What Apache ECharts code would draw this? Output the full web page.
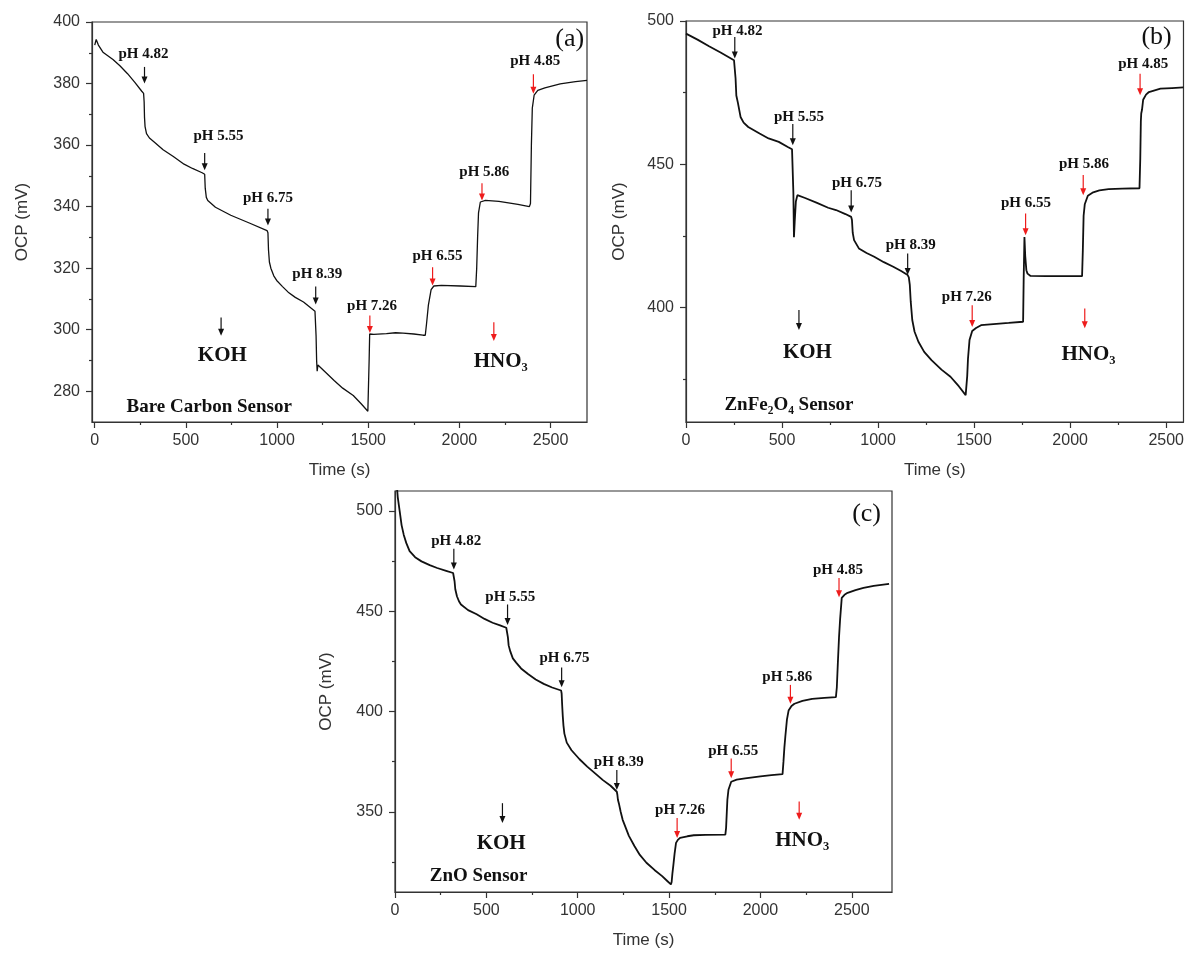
<!DOCTYPE html>
<html>
<head>
<meta charset="utf-8">
<script src="https://cdn.jsdelivr.net/npm/echarts@6/dist/echarts.min.js"></script>
<style>
  html, body { margin: 0; padding: 0; background: #fff; }
  #chart { width: 1187px; height: 954px; }
</style>
</head>
<body>
<div id="chart"></div>
<script>
// ---------- shared labels and ticks ----------
const stepLabels = ['pH 4.82', 'pH 5.55', 'pH 6.75', 'pH 8.39', 'pH 7.26', 'pH 6.55', 'pH 5.86', 'pH 4.85'];
const reagentLabels = ['KOH', 'HNO₃'];
const sensorNames = ['Bare Carbon Sensor', 'ZnFe₂O₄ Sensor', 'ZnO Sensor'];
const panelTags = ['(a)', '(b)', '(c)'];

const xMajorTicks = [0, 500, 1000, 1500, 2000, 2500];
const xMinorTicks = [250, 750, 1250, 1750, 2250];
const yMajorA = [280, 300, 320, 340, 360, 380, 400];
const yMinorA = [290, 310, 330, 350, 370, 390];
const yMajorB = [400, 450, 500];
const yMinorB = [375, 425, 475];
const yMajorC = [350, 400, 450, 500];
const yMinorC = [325, 375, 425, 475];

// ---------- (a) bare carbon sensor ----------
const timeA = [0, 8, 20, 45, 100, 138, 180, 220, 258, 268, 271, 273, 276, 284, 300, 326, 375, 431, 490, 536, 589, 603, 606, 612, 620, 662, 746, 851, 945, 950, 953, 958, 966, 982, 998, 1030, 1061, 1100, 1145, 1208, 1212, 1214, 1217, 1220, 1224, 1230, 1260, 1313, 1360, 1418, 1460, 1498, 1502, 1505, 1508, 1530, 1600, 1650, 1691, 1750, 1800, 1813, 1820, 1830, 1845, 1860, 1901, 2006, 2090, 2095, 2100, 2105, 2115, 2143, 2217, 2321, 2384, 2390, 2395, 2400, 2410, 2430, 2469, 2553, 2637, 2700];
const ocpA = [392.5, 394.3, 392.5, 390.2, 387.8, 385.8, 383.2, 380.4, 377.5, 376.8, 374, 369, 366, 363.7, 362.3, 361, 358.5, 356.3, 353.8, 352.4, 351, 350.5, 346, 343, 342, 339.8, 337.2, 334.6, 332.2, 331.5, 326, 322, 320, 317.5, 316, 314, 312.2, 310.5, 309, 306, 305.5, 298, 290, 286.5, 288.5, 289, 286.5, 283.5, 281, 278.6, 276, 273.5, 273.8, 290, 298.6, 298.5, 298.7, 299, 298.9, 298.6, 298.2, 298.2, 302, 308, 313, 314.2, 314.4, 314.2, 314, 320, 330, 338, 341.5, 342, 341.7, 340.7, 340, 341, 360, 372, 376.2, 377.8, 378.6, 379.9, 380.6, 381];
const stepArrowTimeA = [273, 603, 950, 1212, 1509, 1853, 2124, 2406];
const stepArrowFromA = [385.4, 357.4, 339.3, 314, 304.6, 320.3, 347.6, 383];
const stepArrowToA = [380, 351.8, 333.9, 308.2, 298.9, 314.4, 342, 376.7];
const stepLabelTimeA = [267, 679, 950, 1221, 1521, 1880, 2137, 2416];
const stepLabelMvA = [389.7, 362.9, 342.9, 318.2, 307.5, 323.8, 351.2, 387.3];
const reagentArrowA = [[693, 304, 298], [2189, 302.4, 296.3]];
const reagentTextA = [[700, 291.6], [2227, 289.6]];
const sensorTextA = [628, 275];
const tagTextA = [2605, 394.3];

// ---------- (b) ZnFe2O4 sensor ----------
const timeB = [0, 60, 120, 180, 250, 255, 258, 262, 270, 284, 300, 324, 383, 430, 483, 530, 552, 556, 559, 562, 566, 572, 580, 590, 620, 682, 740, 781, 830, 860, 864, 868, 875, 900, 940, 980, 1030, 1079, 1120, 1154, 1160, 1165, 1170, 1178, 1190, 1210, 1240, 1278, 1330, 1377, 1420, 1456, 1460, 1464, 1468, 1476, 1490, 1510, 1536, 1600, 1680, 1755, 1758, 1762, 1766, 1772, 1778, 1794, 1874, 1960, 2062, 2066, 2070, 2076, 2092, 2120, 2152, 2200, 2271, 2361, 2365, 2368, 2370, 2374, 2380, 2395, 2410, 2470, 2530, 2590];
const ocpB = [495.6, 493.5, 491.2, 489, 486.3, 485.8, 480, 474, 471.5, 466.5, 464.5, 463, 460.7, 459, 457.8, 456, 455.2, 454.6, 440, 424.5, 430, 437, 439.2, 439.3, 438.2, 436.5, 434.8, 434, 432.6, 431.6, 430.5, 426, 423.5, 420.6, 419, 417.7, 415.8, 414.2, 412.7, 411.3, 410.5, 408, 402, 395.6, 391.5, 388, 384.5, 381.6, 378.3, 375.8, 372.5, 369.4, 370, 376, 382, 388.6, 391.8, 392.8, 393.8, 394.2, 394.6, 395, 410, 424.6, 418, 413, 411.8, 411, 410.9, 410.9, 410.9, 420, 432, 436, 439, 440.2, 440.9, 441.3, 441.5, 441.6, 452, 465, 467.7, 469, 472.5, 474.3, 475.2, 476.4, 476.6, 476.8];
const stepArrowTimeB = [254, 556, 860, 1154, 1490, 1768, 2068, 2364];
const stepArrowFromB = [494.4, 464, 440.9, 418.8, 400.8, 432.8, 446.2, 481.6];
const stepArrowToB = [486.9, 456.6, 433.1, 411.3, 393.2, 425.2, 439.2, 474.1];
const stepLabelTimeB = [268, 588, 890, 1170, 1462, 1770, 2072, 2380];
const stepLabelMvB = [496.5, 466.5, 443.5, 421.7, 403.7, 436.5, 450, 485.1];
const reagentArrowB = [[588, 399.1, 392.1], [2076, 399.6, 392.7]];
const reagentTextB = [[632, 384.2], [2096, 383.4]];
const sensorTextB = [536, 365.9];
const tagTextB = [2450, 494.4];

// ---------- (c) ZnO sensor ----------
const timeC = [0, 8, 15, 26, 36, 48, 62, 80, 110, 145, 190, 231, 280, 318, 322, 326, 330, 339, 350, 361, 400, 447, 490, 534, 575, 609, 614, 618, 622, 631, 645, 663, 690, 728, 770, 814, 860, 909, 912, 915, 918, 922, 927, 940, 966, 1010, 1052, 1100, 1138, 1180, 1214, 1217, 1220, 1225, 1235, 1246, 1280, 1311, 1340, 1376, 1420, 1462, 1490, 1510, 1514, 1518, 1523, 1530, 1538, 1548, 1560, 1600, 1635, 1700, 1808, 1812, 1816, 1819, 1825, 1840, 1870, 1916, 2000, 2060, 2121, 2126, 2131, 2136, 2145, 2154, 2170, 2186, 2230, 2283, 2350, 2413, 2418, 2424, 2430, 2436, 2445, 2460, 2477, 2520, 2564, 2620, 2704];
const ocpC = [530, 515, 507, 499.7, 493, 488.1, 484, 480, 477, 474.9, 473, 471.6, 470.2, 469.1, 468.5, 465, 461, 457.5, 455, 453.4, 450.6, 448.5, 446.2, 444.3, 443, 441.8, 441, 437, 433, 430, 426.5, 424.4, 421.5, 418.7, 416, 413.8, 412, 410.5, 409, 403, 398, 393, 389, 384.5, 380.7, 376.2, 372.5, 368.8, 365.8, 363, 360, 358.5, 356, 354.3, 350, 346, 338, 332.8, 328.5, 324.6, 321, 317.9, 315.5, 313.8, 315, 319, 323, 329, 334.5, 336, 337, 337.8, 338.3, 338.5, 338.6, 342, 350, 355.9, 361, 365, 366, 366.7, 367.7, 368.3, 368.8, 375, 382, 387.3, 396, 400.5, 402.8, 403.9, 405.3, 406.3, 406.8, 407.2, 412, 425, 436.9, 446, 456.7, 458.2, 459.2, 460.6, 461.7, 462.7, 463.7];
const stepArrowTimeC = [322, 616, 912, 1214, 1544, 1840, 2164, 2430];
const stepArrowFromC = [481.2, 453.4, 422, 370.8, 346.9, 376.6, 413.3, 466.6];
const stepArrowToC = [470.8, 443.2, 412.1, 360.9, 336.9, 366.7, 403.9, 457];
const stepLabelTimeC = [335, 631, 927, 1225, 1560, 1851, 2147, 2424];
const stepLabelMvC = [484.8, 457, 426.5, 374.9, 351, 380.2, 417.1, 470.4];
const reagentArrowC = [[588, 354.3, 344.4], [2212, 355.1, 346]];
const reagentTextC = [[581, 334.1], [2229, 335.8]];
const sensorTextC = [458, 317.9];
const tagTextC = [2581, 498.3];

// ---------- styling ----------
const AXIS_COLOR = '#333';
const LABEL_COLOR = '#333';
const CURVE_COLOR = '#111';
const BASE_COLOR = '#111';   // KOH additions
const ACID_COLOR = '#ee1c1c'; // HNO3 additions
const SANS = '"Liberation Sans", Arial, sans-serif';
const SERIF = '"Liberation Serif", "Times New Roman", serif';

const panels = [
  {
    grid: { left: 92, top: 22, width: 495, height: 400 },
    xRange: [-15, 2700], yRange: [270, 400], yMajor: yMajorA, yMinor: yMinorA,
    time: timeA, ocp: ocpA, lineWidth: 1.3,
    arrowT: stepArrowTimeA, arrowFrom: stepArrowFromA, arrowTo: stepArrowToA,
    labelT: stepLabelTimeA, labelV: stepLabelMvA,
    reagentArrow: reagentArrowA, reagentText: reagentTextA,
    sensor: sensorTextA, tag: tagTextA, yNameGap: 61
  },
  {
    grid: { left: 686, top: 21, width: 498, height: 401 },
    xRange: [0, 2590], yRange: [360, 500], yMajor: yMajorB, yMinor: yMinorB,
    time: timeB, ocp: ocpB, lineWidth: 1.8,
    arrowT: stepArrowTimeB, arrowFrom: stepArrowFromB, arrowTo: stepArrowToB,
    labelT: stepLabelTimeB, labelV: stepLabelMvB,
    reagentArrow: reagentArrowB, reagentText: reagentTextB,
    sensor: sensorTextB, tag: tagTextB, yNameGap: 58
  },
  {
    grid: { left: 395, top: 491, width: 497, height: 401 },
    xRange: [0, 2720], yRange: [310, 510], yMajor: yMajorC, yMinor: yMinorC,
    time: timeC, ocp: ocpC, lineWidth: 1.8,
    arrowT: stepArrowTimeC, arrowFrom: stepArrowFromC, arrowTo: stepArrowToC,
    labelT: stepLabelTimeC, labelV: stepLabelMvC,
    reagentArrow: reagentArrowC, reagentText: reagentTextC,
    sensor: sensorTextC, tag: tagTextC, yNameGap: 60
  }
];

const grids = [], xAxes = [], yAxes = [], series = [];

function axisPair(dim, gridIndex, range, major, minor, name, nameGap) {
  const pos = dim === 'x' ? 'bottom' : 'left';
  const main = {
    gridIndex, type: 'value', position: pos, min: range[0], max: range[1],
    name, nameLocation: 'middle', nameGap,
    nameTextStyle: { color: LABEL_COLOR, fontSize: 17, fontFamily: SANS },
    axisLine: { show: true, onZero: false, lineStyle: { color: AXIS_COLOR, width: 1.2 } },
    axisTick: { show: true, inside: false, length: 6, customValues: major, lineStyle: { color: AXIS_COLOR, width: 1.2 } },
    axisLabel: {
      show: true, customValues: major, margin: dim === 'x' ? 11 : 12,
      color: LABEL_COLOR, fontSize: 16, fontFamily: SANS,
      formatter: v => String(v)
    },
    splitLine: { show: false }
  };
  const sub = {
    gridIndex, type: 'value', position: pos, min: range[0], max: range[1],
    axisLine: { show: false, onZero: false },
    axisTick: { show: true, inside: false, length: 3, customValues: minor, lineStyle: { color: AXIS_COLOR, width: 1.2 } },
    axisLabel: { show: false },
    splitLine: { show: false }
  };
  return [main, sub];
}

panels.forEach((p, i) => {
  grids.push(Object.assign({ show: true, borderColor: AXIS_COLOR, borderWidth: 1.2, backgroundColor: 'transparent' }, p.grid));
  xAxes.push(...axisPair('x', i, p.xRange, xMajorTicks, xMinorTicks, 'Time (s)', 40));
  yAxes.push(...axisPair('y', i, p.yRange, p.yMajor, p.yMinor, 'OCP (mV)', p.yNameGap));
  const ax = 2 * i;

  // measured OCP trace
  series.push({
    type: 'line', xAxisIndex: ax, yAxisIndex: ax,
    data: p.time.map((t, k) => [t, p.ocp[k]]),
    showSymbol: false, symbol: 'none', clip: true,
    lineStyle: { color: CURVE_COLOR, width: p.lineWidth },
    z: 3
  });

  // arrows: the four KOH steps in black, the four HNO3 steps in red, then the two reagent arrows
  const arrowRows = p.arrowT.map((t, k) => [t, p.arrowFrom[k], p.arrowTo[k], k < 4 ? 0 : 1]);
  arrowRows.push([p.reagentArrow[0][0], p.reagentArrow[0][1], p.reagentArrow[0][2], 0]);
  arrowRows.push([p.reagentArrow[1][0], p.reagentArrow[1][1], p.reagentArrow[1][2], 1]);
  series.push({
    type: 'custom', xAxisIndex: ax, yAxisIndex: ax, silent: true, z: 4,
    data: arrowRows,
    encode: { x: 0, y: [1, 2] },
    renderItem: (params, api) => {
      const a = api.coord([api.value(0), api.value(1)]);
      const b = api.coord([api.value(0), api.value(2)]);
      const color = api.value(3) === 1 ? ACID_COLOR : BASE_COLOR;
      const head = 7, half = 3;
      return {
        type: 'group',
        children: [
          { type: 'line', shape: { x1: a[0], y1: a[1], x2: b[0], y2: b[1] - head + 1 }, style: { stroke: color, lineWidth: 1.2 } },
          { type: 'polygon', shape: { points: [[b[0] - half, b[1] - head], [b[0] + half, b[1] - head], [b[0], b[1]]] }, style: { fill: color } }
        ]
      };
    }
  });

  // text annotations placed in data coordinates
  const texts = [];
  p.labelT.forEach((t, k) => texts.push({ pos: [t, p.labelV[k]], text: stepLabels[k], size: 15, weight: 'bold' }));
  texts.push({ pos: p.reagentText[0], text: reagentLabels[0], size: 21, weight: 'bold' });
  texts.push({ pos: p.reagentText[1], text: reagentLabels[1], size: 21, weight: 'bold' });
  texts.push({ pos: p.sensor, text: sensorNames[i], size: 19, weight: 'bold' });
  texts.push({ pos: p.tag, text: panelTags[i], size: 26, weight: 'normal' });
  series.push({
    type: 'custom', xAxisIndex: ax, yAxisIndex: ax, silent: true, z: 5,
    data: texts.map(d => d.pos),
    encode: { x: 0, y: 1 },
    renderItem: (params, api) => {
      const d = texts[params.dataIndex];
      const c = api.coord([api.value(0), api.value(1)]);
      return {
        type: 'text', x: c[0], y: c[1],
        style: {
          text: d.text, fill: '#111', align: 'center', verticalAlign: 'middle',
          fontFamily: SERIF, fontSize: d.size, fontWeight: d.weight
        }
      };
    }
  });
});

const chart = echarts.init(document.getElementById('chart'), null, { renderer: 'canvas' });
chart.setOption({
  animation: false,
  backgroundColor: '#fff',
  grid: grids,
  xAxis: xAxes,
  yAxis: yAxes,
  series
});
</script>
</body>
</html>
